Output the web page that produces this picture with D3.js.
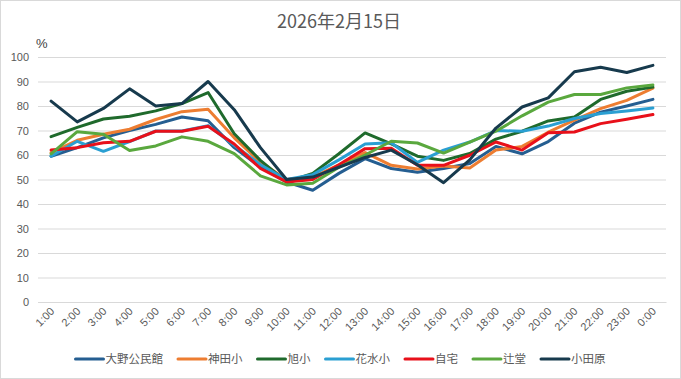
<!DOCTYPE html>
<html><head><meta charset="utf-8">
<script src="https://cdn.jsdelivr.net/npm/d3@7"></script>
<style>
html,body{margin:0;padding:0;background:#fff;}
svg{display:block;font-family:"Noto Sans CJK JP","Liberation Sans",Arial,sans-serif;}
</style></head><body>
<svg id="chart" width="681" height="379"></svg>
<script>
const title = "2026年2月15日";
const unitLabel = "%";
const categories = ["1:00","2:00","3:00","4:00","5:00","6:00","7:00","8:00","9:00","10:00","11:00","12:00","13:00","14:00","15:00","16:00","17:00","18:00","19:00","20:00","21:00","22:00","23:00","0:00"];
const yTicks = [0,10,20,30,40,50,60,70,80,90,100];
const seriesNames = ["大野公民館","神田小","旭小","花水小","自宅","辻堂","小田原"];
const seriesColors = ["#255E91","#ED7D31","#1F6A2C","#2A9FD2","#E8101A","#5AA83E","#173A4D"];
const oono    = [59.5,63,67,70,72.5,75.5,74,63,55,49,45.6,52.5,58.5,54.5,53,54.5,56.5,63.5,60.5,65.5,73,77.5,80,82.7];
const kanda   = [61,66,68.5,70.5,74.5,77.7,78.7,67,57,50,51,56,61,55.8,54.3,55.5,54.7,62,63.5,69.3,74.2,78.9,82.3,87.3];
const asahi   = [67.5,71.3,74.7,75.8,78,81,85.5,68.7,57.8,49,52.5,60.5,69,64.5,59.5,57.8,60.6,66.5,69.7,73.9,75.5,82.7,86,87.7];
const hanamizu= [59.5,65.6,61.5,65.5,69.8,69.8,72,64,56,50,52,58,64.5,65,57,62,65.3,70,69.7,71.8,74.9,76.9,78,79.2];
const jitaku  = [62,63,65,65.6,69.7,69.7,71.7,64.5,54.5,49,50,56,62.6,62.8,55.8,55.8,59.9,65.3,62,69.1,69.4,72.8,74.6,76.5];
const tsujido = [60.5,69.5,68.5,61.8,63.7,67.4,65.6,60.6,51.5,47.8,48.5,55,60,65.6,64.9,60.8,65.3,69.7,76,81.6,84.7,84.7,87.4,88.6];
const odawara = [82,73.5,79,87,80,81,90,78.5,63,50,51,55,59,62,56,48.7,58,71,79.6,83.3,94,95.8,93.7,96.6];
const seriesValues = [oono,kanda,asahi,hanamizu,jitaku,tsujido,odawara];

const svg = d3.select("#chart");
const W = 681, H = 379;
const margin = {left:38, right:15, top:57, bottom:77};

svg.append("rect").attr("x",0.5).attr("y",0.5).attr("width",W-1).attr("height",H-1)
  .attr("fill","#fff").attr("stroke","#d9d9d9");

const x = d3.scaleBand().domain(categories).range([margin.left, W-margin.right]).paddingInner(0).paddingOuter(0);
const xc = d => x(d) + x.bandwidth()/2;
const y = d3.scaleLinear().domain([0,100]).range([H-margin.bottom, margin.top]);

const yAxis = d3.axisLeft(y).tickValues(yTicks).tickSize(-(W-margin.left-margin.right)).tickPadding(9);
const gy = svg.append("g").attr("transform",`translate(${margin.left},0)`).call(yAxis);
gy.select(".domain").remove();
gy.selectAll("line").attr("stroke","#d9d9d9").attr("stroke-width",1);
gy.selectAll("text").attr("fill","#595959").attr("font-size","11px")
  .attr("font-family","'Liberation Sans',Arial,sans-serif");

const xAxis = d3.axisBottom(x).tickSize(0).tickPadding(0);
const gx = svg.append("g").attr("transform",`translate(0,${H-margin.bottom})`).call(xAxis);
gx.select(".domain").attr("stroke","#d9d9d9");
gx.selectAll("text").attr("fill","#595959").attr("font-size","11px")
  .attr("font-family","'Liberation Sans',Arial,sans-serif")
  .attr("text-anchor","end").attr("dy",null).attr("y",0)
  .attr("transform","translate(4,10) rotate(-45)");

svg.append("text").attr("x",339).attr("y",28).attr("text-anchor","middle")
  .attr("fill","#595959").attr("font-size","18px").text(title);
svg.append("text").attr("x",36).attr("y",48).attr("fill","#404040")
  .attr("font-size","13px").attr("font-family","'Liberation Sans',Arial,sans-serif").text(unitLabel);

const line = d3.line().x((d,i)=>xc(categories[i])).y(d=>y(d));
seriesValues.forEach((vals,k)=>{
  svg.append("path").datum(vals).attr("d",line).attr("fill","none")
    .attr("stroke",seriesColors[k]).attr("stroke-width",3)
    .attr("stroke-linejoin","round").attr("stroke-linecap","round");
});

// legend, centred
const lg = svg.append("g").attr("transform","translate(0,359)");
let lx = 0;
seriesNames.forEach((name,k)=>{
  lg.append("line").attr("x1",lx).attr("x2",lx+28).attr("y1",0).attr("y2",0)
    .attr("stroke",seriesColors[k]).attr("stroke-width",3).attr("stroke-linecap","round");
  const t = lg.append("text").attr("x",lx+30).attr("y",4).attr("fill","#595959")
    .attr("font-size","11.5px").text(name);
  const w = t.node().getComputedTextLength();
  lx += 30 + w + (k < seriesNames.length-1 ? 15 : 0);
});
lg.attr("transform",`translate(${(W - lx)/2},359)`);
</script>
</body></html>
